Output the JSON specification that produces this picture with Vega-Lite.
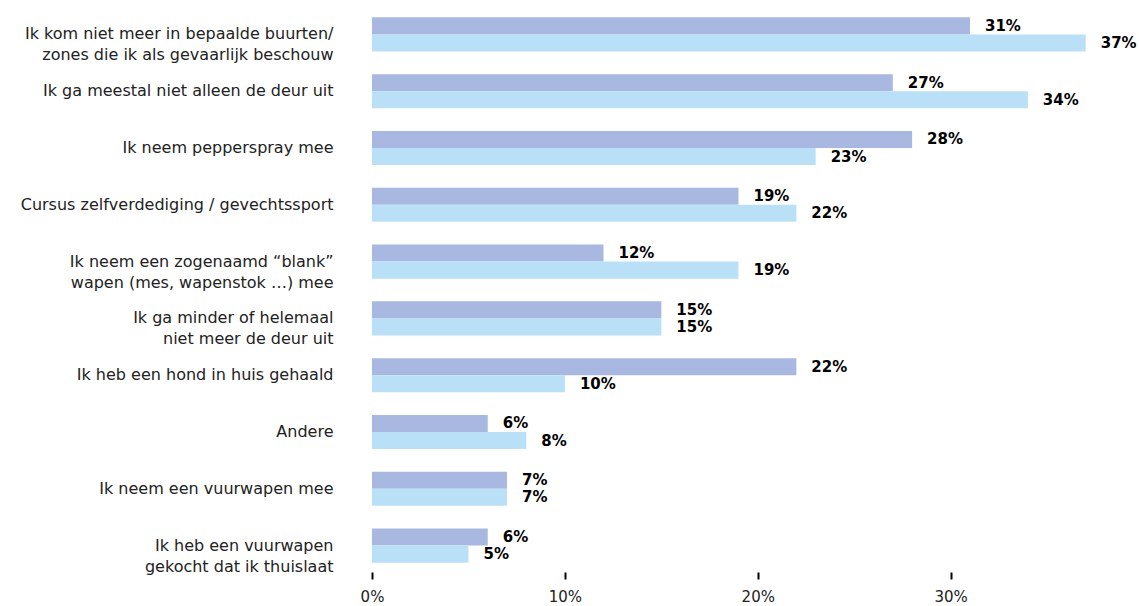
{
  "$schema": "https://vega.github.io/schema/vega-lite/v6.json",
  "autosize": {"type": "none"},
  "padding": {"left": 372, "top": 8, "right": 34, "bottom": 34},
  "width": 733,
  "height": 564,
  "background": "white",
  "config": {"view": {"stroke": null}, "font": "DejaVu Sans"},
  "data": {"values": [
    {"cat": "Ik kom niet meer in bepaalde buurten/|zones die ik als gevaarlijk beschouw", "reeks": "1", "v": 0.31},
    {"cat": "Ik kom niet meer in bepaalde buurten/|zones die ik als gevaarlijk beschouw", "reeks": "2", "v": 0.37},
    {"cat": "Ik ga meestal niet alleen de deur uit", "reeks": "1", "v": 0.27},
    {"cat": "Ik ga meestal niet alleen de deur uit", "reeks": "2", "v": 0.34},
    {"cat": "Ik neem pepperspray mee", "reeks": "1", "v": 0.28},
    {"cat": "Ik neem pepperspray mee", "reeks": "2", "v": 0.23},
    {"cat": "Cursus zelfverdediging / gevechtssport", "reeks": "1", "v": 0.19},
    {"cat": "Cursus zelfverdediging / gevechtssport", "reeks": "2", "v": 0.22},
    {"cat": "Ik neem een zogenaamd “blank”|wapen (mes, wapenstok …) mee", "reeks": "1", "v": 0.12},
    {"cat": "Ik neem een zogenaamd “blank”|wapen (mes, wapenstok …) mee", "reeks": "2", "v": 0.19},
    {"cat": "Ik ga minder of helemaal|niet meer de deur uit", "reeks": "1", "v": 0.15},
    {"cat": "Ik ga minder of helemaal|niet meer de deur uit", "reeks": "2", "v": 0.15},
    {"cat": "Ik heb een hond in huis gehaald", "reeks": "1", "v": 0.22},
    {"cat": "Ik heb een hond in huis gehaald", "reeks": "2", "v": 0.10},
    {"cat": "Andere", "reeks": "1", "v": 0.06},
    {"cat": "Andere", "reeks": "2", "v": 0.08},
    {"cat": "Ik neem een vuurwapen mee", "reeks": "1", "v": 0.07},
    {"cat": "Ik neem een vuurwapen mee", "reeks": "2", "v": 0.07},
    {"cat": "Ik heb een vuurwapen|gekocht dat ik thuislaat", "reeks": "1", "v": 0.06},
    {"cat": "Ik heb een vuurwapen|gekocht dat ik thuislaat", "reeks": "2", "v": 0.05}
  ]},
  "encoding": {
    "y": {
      "field": "cat", "type": "nominal", "sort": null, "title": null,
      "scale": {"paddingInner": 0.4, "paddingOuter": 0.165},
      "axis": {
        "domain": false, "ticks": false, "labelPadding": 39,
        "labelExpr": "split(datum.label, '|')",
        "labelFont": "DejaVu Sans",
        "labelFontSize": 16, "labelColor": "#222222", "labelLineHeight": 21,
        "labelLimit": 400
      }
    },
    "yOffset": {"field": "reeks", "type": "nominal", "scale": {"paddingInner": 0}},
    "x": {
      "field": "v", "type": "quantitative", "title": null,
      "scale": {"domain": [0, 0.38], "nice": false},
      "axis": {
        "values": [0, 0.1, 0.2, 0.3], "format": ".0%", "grid": false, "domain": false,
        "tickColor": "#000000", "tickSize": 7, "tickWidth": 2, "labelFlush": false,
        "labelPadding": 10, "labelFont": "DejaVu Sans", "labelFontSize": 15, "labelColor": "#222222"
      }
    }
  },
  "layer": [
    {
      "mark": {"type": "bar"},
      "encoding": {
        "color": {
          "field": "reeks", "type": "nominal", "legend": null,
          "scale": {"domain": ["1", "2"], "range": ["#a8b8e1", "#b9e0f7"]}
        }
      }
    },
    {
      "mark": {"type": "text", "align": "left", "baseline": "middle", "dx": 15, "font": "DejaVu Sans", "fontSize": 15, "fontWeight": "bold", "color": "#000000"},
      "encoding": {
        "text": {"field": "v", "type": "quantitative", "format": ".0%"}
      }
    }
  ]
}
